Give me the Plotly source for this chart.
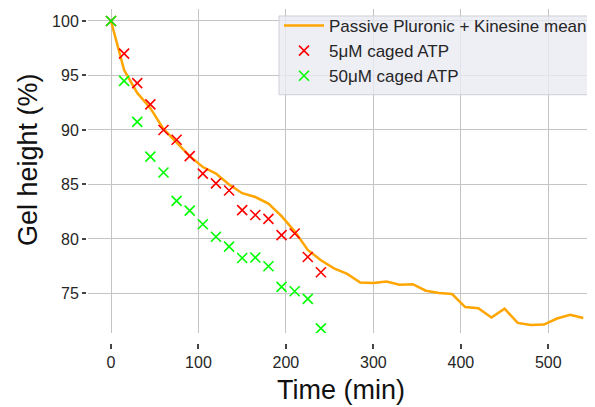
import plotly.graph_objects as go

# ---- data ----
mean_time = [0, 15, 30, 45, 60, 75, 90, 105, 120, 135, 150, 165, 180, 195, 210, 225,
             240, 255, 270, 285, 300, 315, 330, 345, 360, 375, 390, 405, 420, 435,
             450, 465, 480, 495, 510, 525, 540]
mean_height = [100.0, 95.5, 93.4, 92.0, 90.1, 88.8, 87.6, 86.6, 86.0, 85.0, 84.2, 83.85,
               83.25, 82.1, 80.7, 79.0, 78.05, 77.3, 76.8, 76.0, 75.95, 76.1, 75.8,
               75.85, 75.25, 75.05, 74.95, 73.75, 73.65, 72.8, 73.6, 72.3, 72.1,
               72.15, 72.7, 73.05, 72.75]

caged_time = [0, 15, 30, 45, 60, 75, 90, 105, 120, 135, 150, 165, 180, 195, 210, 225, 240]
atp5_height = [100.0, 97.0, 94.3, 92.35, 90.0, 89.1, 87.6, 86.0, 85.1, 84.45, 82.65,
               82.2, 81.85, 80.35, 80.5, 78.35, 76.95]
atp50_height = [100.0, 94.5, 90.75, 87.55, 86.1, 83.5, 82.6, 81.35, 80.2, 79.3, 78.25,
                78.3, 77.5, 75.6, 75.2, 74.5, 71.8]

x_ticks = [0, 100, 200, 300, 400, 500]
y_ticks = [75, 80, 85, 90, 95, 100]

FONT = "Liberation Sans, Arial, sans-serif"
TXT = "#262626"

fig = go.Figure()
fig.add_trace(go.Scatter(
    x=mean_time, y=mean_height, mode="lines",
    name="Passive Pluronic + Kinesine mean",
    line=dict(color="#FFA500", width=2.5),
))
fig.add_trace(go.Scatter(
    x=caged_time, y=atp5_height, mode="markers",
    name="5μM caged ATP",
    marker=dict(symbol="x-thin", size=10, color="#FF0000",
                line=dict(color="#FF0000", width=1.6)),
))
fig.add_trace(go.Scatter(
    x=caged_time, y=atp50_height, mode="markers",
    name="50μM caged ATP",
    marker=dict(symbol="x-thin", size=10, color="#00FF00",
                line=dict(color="#00FF00", width=1.6)),
))

# the page body adds an 8px offset; figure coordinates = page coordinates - 8
OFF = 8
W, H = 595 - OFF, 407 - OFF
ml, mr, mt, mb = 86 - OFF, 0, 0, 64
pw, ph = W - ml - mr, H - mt - mb


def px_x(page_x):
    return (page_x - OFF - ml) / pw


def px_y(page_y):
    return 1 - (page_y - OFF - mt) / ph


fig.update_layout(
    width=W, height=H,
    margin=dict(l=ml, r=mr, t=mt, b=mb, pad=0),
    paper_bgcolor="white", plot_bgcolor="white",
    font=dict(family=FONT, size=16, color=TXT),
    showlegend=True,
    legend=dict(
        x=px_x(279), y=px_y(7), xanchor="left", yanchor="top",
        bgcolor="rgba(0,0,0,0)", borderwidth=0,
        font=dict(family=FONT, size=17, color=TXT),
        itemwidth=40, tracegroupgap=0,
    ),
    shapes=[
        dict(type="rect", xref="paper", yref="paper", layer="above",
             x0=px_x(279), x1=px_x(605), y0=px_y(94), y1=px_y(15),
             fillcolor="rgba(234,234,242,0.8)",
             line=dict(color="rgba(204,204,212,0.9)", width=1)),
    ],
    xaxis=dict(
        range=[-26.3, 553.4], domain=[2 / pw, 1],
        anchor="free", position=0,
        tickvals=x_ticks, ticktext=[str(v) for v in x_ticks],
        showgrid=True, gridcolor="#c4c4c4", gridwidth=1.2,
        zeroline=False, showline=False,
        ticks="outside", ticklen=5, tickwidth=1.5, tickcolor="#444444",
        tickfont=dict(family=FONT, size=16, color=TXT),
    ),
    yaxis=dict(
        range=[71.37, 101.1], domain=[10 / ph, 1],
        anchor="free", position=0,
        tickvals=y_ticks, ticktext=[str(v) for v in y_ticks],
        showgrid=True, gridcolor="#c4c4c4", gridwidth=1.2,
        zeroline=False, showline=False,
        ticks="outside", ticklen=4, tickwidth=1.5, tickcolor="#444444",
        tickfont=dict(family=FONT, size=16, color=TXT),
    ),
    annotations=[
        dict(text="Time (min)", xref="paper", yref="paper",
             x=px_x(341), y=px_y(390),
             xanchor="center", yanchor="middle", showarrow=False,
             font=dict(family=FONT, size=27, color="#111111")),
        dict(text="Gel height (%)", xref="paper", yref="paper",
             x=px_x(28), y=px_y(159.5),
             xanchor="center", yanchor="middle", textangle=-90, showarrow=False,
             font=dict(family=FONT, size=27, color="#111111")),
    ],
)

fig.write_html("out.html")
